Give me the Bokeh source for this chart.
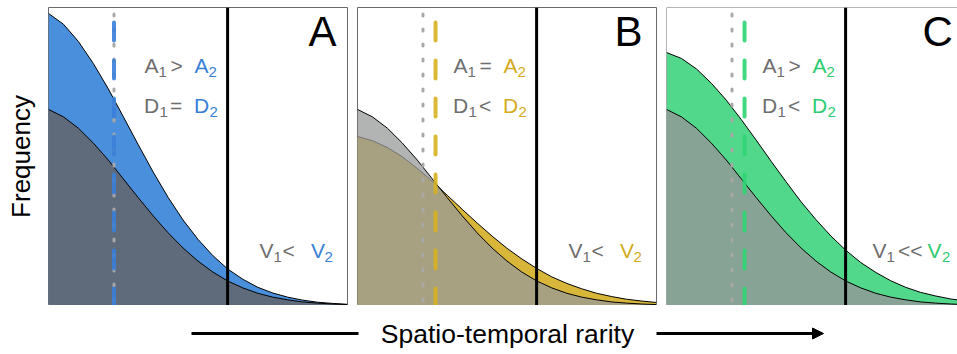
from bokeh.plotting import figure
from bokeh.models import Range1d, LinearAxis, FixedTicker, Span, Arrow, NormalHead, ColumnDataSource
from bokeh.layouts import row, column
from bokeh.core.properties import value
from bokeh.embed import file_html
from bokeh.resources import INLINE

# ---------------- data ----------------
rarity = [0.0, 0.5, 1.0, 1.5, 2.0, 2.5, 3.0, 3.5, 4.0, 4.5, 5.0,
          5.5, 6.0, 6.5, 7.0, 7.5, 8.0, 8.5, 9.0, 9.5, 10.0]
freq_ref = [0.658, 0.633, 0.595, 0.545, 0.488, 0.425, 0.362, 0.301, 0.244, 0.193, 0.149,
            0.112, 0.082, 0.059, 0.041, 0.028, 0.019, 0.012, 0.008, 0.005, 0.003]
freq_A = [0.980, 0.944, 0.886, 0.812, 0.727, 0.634, 0.540, 0.448, 0.363, 0.287, 0.222,
          0.167, 0.122, 0.088, 0.061, 0.042, 0.028, 0.018, 0.011, 0.007, 0.004]
freq_B = [0.567, 0.553, 0.530, 0.499, 0.460, 0.417, 0.370, 0.323, 0.277, 0.233, 0.192,
          0.156, 0.124, 0.096, 0.074, 0.056, 0.041, 0.030, 0.021, 0.015, 0.010]
freq_C = [0.849, 0.829, 0.794, 0.746, 0.689, 0.624, 0.555, 0.484, 0.415, 0.348, 0.288,
          0.233, 0.185, 0.144, 0.111, 0.083, 0.061, 0.044, 0.032, 0.022, 0.015]
mean_ref = 2.19
means = {"A": 2.19, "B": 2.61, "C": 2.61}
threshold = 5.99
panel_names = ["A", "B", "C"]
comparisons = {"A": [">", "=", "<"], "B": ["=", "<", "<"], "C": [">", "<", "<<"]}
axis_y_label = "Frequency"
axis_x_label = "Spatio-temporal rarity"

# ---------------- styles / layout ----------------
FONT = "Liberation Sans"
FW, FH = 299, 298          # frame size in px
PXU = 29.9                 # px per rarity unit
TOP = 7
SHIFT = 0.39               # baseline correction (fraction of font size)
TEXT_GRAY = "#6e6e6e"
OUTLINE = "#6a6a6a"
styles = {
    "A": dict(fill="#4a8fdb", overlay="#675f59", text="#3a7fd6", dash="#3a7fd8"),
    "B": dict(fill="#d7b63a", overlay="#98999a", text="#d4ab1c", dash="#d6b11f"),
    "C": dict(fill="#52d88a", overlay="#9a9298", text="#2ecc71", dash="#2ed573"),
}
big_x = {"A": 260, "B": 257, "C": 256}
v_xs = {"A": (211, 225, 234, 262.5, 276), "B": (211, 225, 234, 262.5, 276),
        "C": (206, 220, 231.5, 261, 275.5)}


def fx(px):
    return px / PXU


def fy(py):
    return 1 - py / FH


def stat_row(letter, op, color, xs, base):
    x1, s1, xo, x2, s2 = xs
    return [(letter, x1, base, 21, TEXT_GRAY),
            ("1", s1, base + 4, 15, TEXT_GRAY),
            (op, xo, base, 21, TEXT_GRAY),
            (letter, x2, base, 21, color),
            ("2", s2, base + 4, 15, color)]


series = {"A": freq_A, "B": freq_B, "C": freq_C}
plots = []
for i, name in enumerate(panel_names):
    st = styles[name]
    fw = FW if name != "C" else 291
    p = figure(frame_width=fw, frame_height=FH,
               x_range=Range1d(0, fw / PXU), y_range=Range1d(0, 1),
               x_axis_type=None, y_axis_type=None,
               toolbar_location=None, output_backend="svg",
               min_border_left=48 if i == 0 else 5,
               min_border_right=0 if name == "C" else 5,
               min_border_top=TOP, min_border_bottom=0,
               background_fill_color="white", border_fill_color="white")
    if name == "C":
        p.outline_line_color = None
        for loc, dim in [(0, "height"), (0, "width"), (1, "width")]:
            p.add_layout(Span(location=loc, dimension=dim, line_color=OUTLINE, line_width=1))
    else:
        p.outline_line_color = OUTLINE
        p.outline_line_width = 1
    if i == 0:
        ax = LinearAxis(axis_label=axis_y_label, ticker=FixedTicker(ticks=[]),
                        axis_line_color=None, major_tick_line_color=None,
                        minor_tick_line_color=None, major_label_text_font_size="0px",
                        axis_label_text_font=FONT, axis_label_text_font_size="26px",
                        axis_label_text_font_style="normal", axis_label_text_color="black",
                        axis_label_standoff=13, major_label_standoff=0,
                        major_tick_out=0, major_tick_in=0)
        p.add_layout(ax, "left")

    col = series[name]
    p.varea(x=rarity, y1=0, y2=col, fill_color=st["fill"])
    p.line(x=rarity, y=col, line_color="black", line_width=1)
    p.varea(x=rarity, y1=0, y2=freq_ref, fill_color=st["overlay"], fill_alpha=0.75)
    p.line(x=rarity, y=freq_ref, line_color="black", line_width=1)

    # mean lines
    p.segment(x0=[mean_ref], y0=[fy(6.5)], x1=[mean_ref], y1=[0], line_color="#a8a8a8",
              line_width=3, line_dash="2 13", line_cap="round")
    p.segment(x0=[means[name]], y0=[fy(15)], x1=[means[name]], y1=[0], line_color=st["dash"],
              line_width=4, line_dash="18 20", line_cap="round", line_alpha=0.9)
    # threshold
    p.add_layout(Span(location=threshold, dimension="height", line_color="black", line_width=3))

    ops = comparisons[name]
    pieces = []
    pieces += stat_row("A", ops[0], st["text"], (96, 110, 122, 146, 160), 66.5)
    pieces += stat_row("D", ops[1], st["text"], (95.5, 111, 121.5, 145.5, 161), 106.5)
    pieces += stat_row("V", ops[2], st["text"], v_xs[name], 251.5)
    pieces.append((name, big_x[name], 40, 42, "black"))
    src = ColumnDataSource(dict(
        x=[fx(t[1]) for t in pieces], y=[fy(t[2] - SHIFT * t[3]) for t in pieces],
        text=[t[0] for t in pieces], size=["%dpx" % t[3] for t in pieces],
        color=[t[4] for t in pieces]))
    p.text(x="x", y="y", text="text", text_font_size="size", text_color="color",
           text_font=value(FONT), text_baseline="alphabetic", text_align="left", source=src)
    plots.append(p)

# bottom strip with the arrow and the x label (coordinates = page pixels)
pb = figure(width=957, height=49, x_range=Range1d(0, 957), y_range=Range1d(354, 305),
            x_axis_type=None, y_axis_type=None, toolbar_location=None,
            output_backend="svg", min_border=0, outline_line_color=None)
pb.segment(x0=[191], y0=[333], x1=[358], y1=[333], line_color="black", line_width=3)
pb.add_layout(Arrow(x_start=656, y_start=333, x_end=823, y_end=333, line_color="black",
                    line_width=3, end=NormalHead(size=11, fill_color="black", line_color="black")))
pb.text(x=[507], y=[344 - SHIFT * 26.5], text=[axis_x_label], text_font=value(FONT),
        text_font_size=value("26.5px"), text_align="center", text_baseline="alphabetic",
        text_color="black")

layout = column(row(*plots), pb)
open("out.html", "w").write(file_html(layout, INLINE))
